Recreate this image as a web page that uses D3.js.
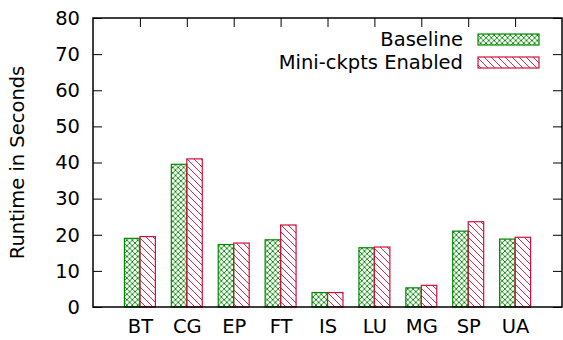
<!DOCTYPE html>
<html>
<head>
<meta charset="utf-8">
<script src="https://cdn.jsdelivr.net/npm/d3@7"></script>
<style>
  body { margin: 0; background: #fff; }
  text { font-family: "DejaVu Sans", sans-serif; fill: #000; }
</style>
</head>
<body>
<div id="chart"></div>
<script>
// benchmark names and runtimes (seconds)
var benchmarks = ["BT", "CG", "EP", "FT", "IS", "LU", "MG", "SP", "UA"];
var baseline = [19.0, 39.5, 17.3, 18.6, 4.0, 16.4, 5.3, 21.0, 18.8];
var miniCkpts = [19.5, 41.0, 17.7, 22.7, 4.0, 16.6, 6.0, 23.6, 19.3];
var yTicks = [0, 10, 20, 30, 40, 50, 60, 70, 80];
var seriesNames = ["Baseline", "Mini-ckpts Enabled"];

var W = 563, H = 340;
var margin = {top: 18, right: 1, bottom: 33, left: 93};
var green = "#008a00", red = "#d0103a";
var fs = "19.5px";

var svg = d3.select("#chart").append("svg")
    .attr("width", W)
    .attr("height", H);

var defs = svg.append("defs");

// crosshatch for baseline
var p1 = defs.append("pattern")
    .attr("id", "cross")
    .attr("patternUnits", "userSpaceOnUse")
    .attr("width", 5.4).attr("height", 5.4);
p1.append("path")
    .attr("d", "M0,0 L5.4,5.4 M5.4,0 L0,5.4")
    .attr("stroke", green).attr("stroke-width", 0.9).attr("fill", "none");

// backslash hatch for mini-ckpts
var p2 = defs.append("pattern")
    .attr("id", "hatch")
    .attr("patternUnits", "userSpaceOnUse")
    .attr("width", 7).attr("height", 7);
p2.append("path")
    .attr("d", "M-1,-1 L8,8 M-1,6 L1,8 M6,-1 L8,1")
    .attr("stroke", red).attr("stroke-width", 0.9).attr("fill", "none");

var x = d3.scaleLinear().domain([0, 10]).range([margin.left, W - margin.right]);
var y = d3.scaleLinear().domain([0, 80]).range([H - margin.bottom, margin.top]);

var barW = 0.33;
var series = [
    {name: seriesNames[0], values: baseline, fill: "url(#cross)", stroke: green, off: -barW},
    {name: seriesNames[1], values: miniCkpts, fill: "url(#hatch)", stroke: red, off: 0}
];

// bars
series.forEach(function(s) {
    svg.append("g").selectAll("rect")
        .data(s.values)
        .enter()
        .append("rect")
        .attr("x", function(d, i) { return x(i + 1 + s.off); })
        .attr("y", function(d) { return y(d); })
        .attr("width", x(barW) - x(0))
        .attr("height", function(d) { return y(0) - y(d); })
        .attr("fill", s.fill)
        .attr("stroke", s.stroke)
        .attr("stroke-width", 1.2);
});

// y axis left + mirror right (ticks inward)
var gl = svg.append("g")
    .attr("transform", "translate(" + margin.left + ",0)")
    .call(d3.axisRight(y).tickValues(yTicks).tickSize(9).tickFormat(""));
gl.select(".domain").remove();
svg.append("g")
    .attr("transform", "translate(" + margin.left + ",0)")
    .call(d3.axisLeft(y).tickValues(yTicks).tickSize(0).tickPadding(13))
    .call(function(g) { g.select(".domain").remove(); })
    .selectAll("text").style("font-size", fs);
svg.append("g")
    .attr("transform", "translate(" + (W - margin.right) + ",0)")
    .call(d3.axisLeft(y).tickValues(yTicks).tickSize(9).tickFormat(""))
    .select(".domain").remove();

// x axis: top ticks mirrored inward, labels below
var cats = d3.range(1, benchmarks.length + 1);
svg.append("g")
    .attr("transform", "translate(0," + margin.top + ")")
    .call(d3.axisBottom(x).tickValues(cats).tickSize(9).tickFormat(""))
    .select(".domain").remove();
svg.append("g")
    .attr("transform", "translate(0," + (H - margin.bottom) + ")")
    .call(d3.axisBottom(x).tickValues(cats).tickSize(0).tickPadding(12)
        .tickFormat(function(d) { return benchmarks[d - 1]; }))
    .call(function(g) { g.select(".domain").remove(); })
    .selectAll("text").style("font-size", fs);

svg.selectAll(".tick line").attr("stroke", "#000").attr("stroke-width", 1);

// border
svg.append("rect")
    .attr("x", margin.left).attr("y", margin.top)
    .attr("width", W - margin.right - margin.left)
    .attr("height", H - margin.bottom - margin.top)
    .attr("fill", "none").attr("stroke", "#000").attr("stroke-width", 1.5);

// y label
svg.append("text")
    .attr("transform", "translate(24," + ((margin.top + H - margin.bottom) / 2) + ") rotate(-90)")
    .attr("text-anchor", "middle")
    .style("font-size", fs)
    .text("Runtime in Seconds");

// legend
var leg = svg.append("g");
series.forEach(function(s, i) {
    var ly = 39 + i * 23;
    leg.append("text")
        .attr("x", 463).attr("y", ly + 7)
        .attr("text-anchor", "end")
        .style("font-size", fs)
        .text(s.name);
    leg.append("rect")
        .attr("x", 478).attr("y", ly - 5)
        .attr("width", 61).attr("height", 11)
        .attr("fill", s.fill).attr("stroke", s.stroke).attr("stroke-width", 1.2);
});
</script>
</body>
</html>
